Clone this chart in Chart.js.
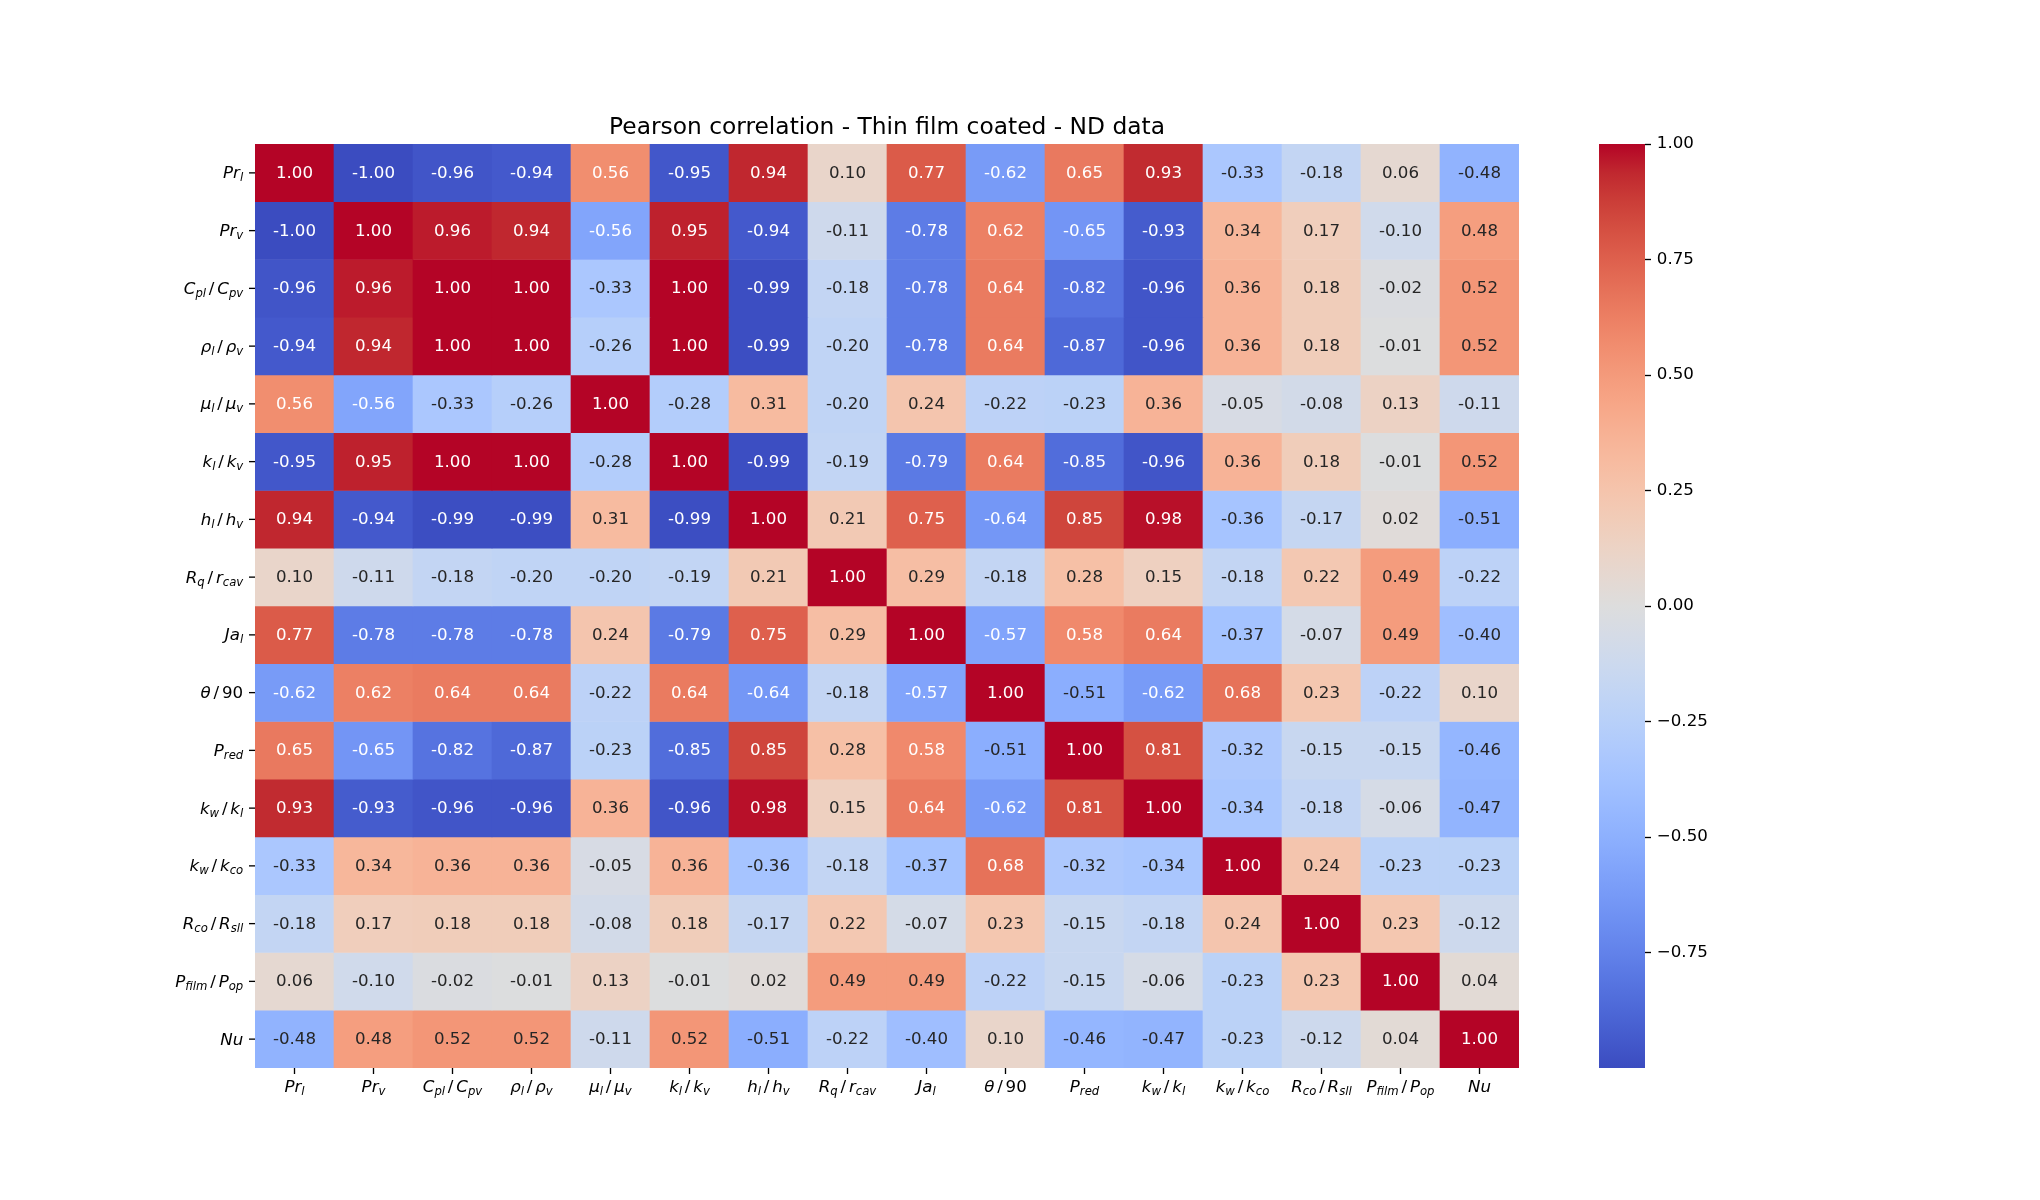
<!DOCTYPE html>
<html>
<head>
<meta charset="utf-8">
<script src="https://cdn.jsdelivr.net/npm/chart.js@4.4.0/dist/chart.umd.min.js"></script>
<style>
  html, body { margin: 0; padding: 0; background: white; }
  #wrap { position: relative; width: 2040px; height: 1200px; background: white; }
  #heat { position: absolute; left: 0; top: 0; width: 2040px; height: 1200px; }
  #cbar { position: absolute; left: 1540px; top: 0; width: 300px; height: 1200px; }
</style>
</head>
<body>
<div id="wrap">
  <canvas id="heat" width="2040" height="1200"></canvas>
  <canvas id="cbar" width="300" height="1200"></canvas>
</div>
<script>
// Pearson correlation heatmap (seaborn-style) with a coolwarm colour bar

const chartTitle = 'Pearson correlation - Thin film coated - ND data';

// mathtext-ish labels: _{..} is a subscript, " / " a spaced slash
const varLabels = [
  'Pr_{l}', 'Pr_{v}', 'C_{pl} / C_{pv}', '\u03c1_{l} / \u03c1_{v}', '\u03bc_{l} / \u03bc_{v}',
  'k_{l} / k_{v}', 'h_{l} / h_{v}', 'R_{q} / r_{cav}', 'Ja_{l}', '\u03b8 / 90',
  'P_{red}', 'k_{w} / k_{l}', 'k_{w} / k_{co}', 'R_{co} / R_{sll}', 'P_{film} / P_{op}', 'Nu'
];

// one row per variable, same order as varLabels
const corr = [
  [ 1.00, -1.00, -0.96, -0.94,  0.56, -0.95,  0.94,  0.10,  0.77, -0.62,  0.65,  0.93, -0.33, -0.18,  0.06, -0.48],
  [-1.00,  1.00,  0.96,  0.94, -0.56,  0.95, -0.94, -0.11, -0.78,  0.62, -0.65, -0.93,  0.34,  0.17, -0.10,  0.48],
  [-0.96,  0.96,  1.00,  1.00, -0.33,  1.00, -0.99, -0.18, -0.78,  0.64, -0.82, -0.96,  0.36,  0.18, -0.02,  0.52],
  [-0.94,  0.94,  1.00,  1.00, -0.26,  1.00, -0.99, -0.20, -0.78,  0.64, -0.87, -0.96,  0.36,  0.18, -0.01,  0.52],
  [ 0.56, -0.56, -0.33, -0.26,  1.00, -0.28,  0.31, -0.20,  0.24, -0.22, -0.23,  0.36, -0.05, -0.08,  0.13, -0.11],
  [-0.95,  0.95,  1.00,  1.00, -0.28,  1.00, -0.99, -0.19, -0.79,  0.64, -0.85, -0.96,  0.36,  0.18, -0.01,  0.52],
  [ 0.94, -0.94, -0.99, -0.99,  0.31, -0.99,  1.00,  0.21,  0.75, -0.64,  0.85,  0.98, -0.36, -0.17,  0.02, -0.51],
  [ 0.10, -0.11, -0.18, -0.20, -0.20, -0.19,  0.21,  1.00,  0.29, -0.18,  0.28,  0.15, -0.18,  0.22,  0.49, -0.22],
  [ 0.77, -0.78, -0.78, -0.78,  0.24, -0.79,  0.75,  0.29,  1.00, -0.57,  0.58,  0.64, -0.37, -0.07,  0.49, -0.40],
  [-0.62,  0.62,  0.64,  0.64, -0.22,  0.64, -0.64, -0.18, -0.57,  1.00, -0.51, -0.62,  0.68,  0.23, -0.22,  0.10],
  [ 0.65, -0.65, -0.82, -0.87, -0.23, -0.85,  0.85,  0.28,  0.58, -0.51,  1.00,  0.81, -0.32, -0.15, -0.15, -0.46],
  [ 0.93, -0.93, -0.96, -0.96,  0.36, -0.96,  0.98,  0.15,  0.64, -0.62,  0.81,  1.00, -0.34, -0.18, -0.06, -0.47],
  [-0.33,  0.34,  0.36,  0.36, -0.05,  0.36, -0.36, -0.18, -0.37,  0.68, -0.32, -0.34,  1.00,  0.24, -0.23, -0.23],
  [-0.18,  0.17,  0.18,  0.18, -0.08,  0.18, -0.17,  0.22, -0.07,  0.23, -0.15, -0.18,  0.24,  1.00,  0.23, -0.12],
  [ 0.06, -0.10, -0.02, -0.01,  0.13, -0.01,  0.02,  0.49,  0.49, -0.22, -0.15, -0.06, -0.23,  0.23,  1.00,  0.04],
  [-0.48,  0.48,  0.52,  0.52, -0.11,  0.52, -0.51, -0.22, -0.40,  0.10, -0.46, -0.47, -0.23, -0.12,  0.04,  1.00]
];

const cbarTicks = [-0.75, -0.5, -0.25, 0, 0.25, 0.5, 0.75, 1.0];
const vMin = -1, vMax = 1;

// coolwarm (Moreland), 33 samples from 0 to 1
const coolwarm = [
  [59,76,192],[68,90,204],[77,104,215],[87,117,225],[98,130,234],[108,142,241],[119,154,247],[130,165,251],
  [141,176,254],[152,185,255],[163,194,255],[174,201,253],[184,208,249],[194,213,244],[204,217,238],[213,219,230],
  [221,221,221],[229,216,209],[236,211,197],[241,204,184],[245,196,172],[247,187,160],[247,177,148],[247,166,135],
  [244,154,123],[241,141,111],[236,127,99],[229,112,88],[222,96,77],[213,80,66],[203,62,56],[192,40,47],[180,4,38]
];

const FONT = '"DejaVu Sans", sans-serif';
const TICK_PX = 16.67, SUB_PX = 11.67, SUB_DROP = 3, THIN = 2.8;
const TICK_LEN = 6, TICK_PAD = 5.8;

Chart.defaults.font.family = FONT;

function cmap(v) {
  let t = (v - vMin) / (vMax - vMin);
  t = Math.max(0, Math.min(1, t)) * (coolwarm.length - 1);
  const i = Math.min(Math.floor(t), coolwarm.length - 2);
  const f = t - i;
  const a = coolwarm[i], b = coolwarm[i + 1];
  return [0, 1, 2].map(k => Math.round(a[k] + (b[k] - a[k]) * f));
}
const rgbStr = c => `rgb(${c[0]},${c[1]},${c[2]})`;

// seaborn picks the annotation colour from the cell luminance
function textColor(v) {
  const lin = cmap(v).map(c => {
    c = c / 255;
    return c <= 0.03928 ? c / 12.92 : Math.pow((c + 0.055) / 1.055, 2.4);
  });
  const lum = 0.2126 * lin[0] + 0.7152 * lin[1] + 0.0722 * lin[2];
  return lum > 0.408 ? '#262626' : '#ffffff';
}

// ---- label rendering with subscripts ----
function labelRuns(label) {
  const runs = [];
  const re = /_\{([^}]*)\}|( \/ )|([0-9]+)|([^_ \/0-9]+)/g;
  let m;
  while ((m = re.exec(label))) {
    if (m[1] !== undefined) runs.push({ text: m[1], sub: true });
    else if (m[2]) runs.push({ text: '/', slash: true });
    else if (m[3]) runs.push({ text: m[3], upright: true });
    else runs.push({ text: m[4] });
  }
  return runs;
}
function runFont(r) {
  const size = r.sub ? SUB_PX : TICK_PX;
  const style = (r.upright || r.slash) ? 'normal' : 'italic';
  return `${style} ${size}px ${FONT}`;
}
function runWidth(ctx, r) {
  ctx.font = runFont(r);
  return ctx.measureText(r.text).width + (r.slash ? 2 * THIN : 0);
}
function drawLabel(ctx, label, x, y, align) {
  const runs = labelRuns(label);
  const total = runs.reduce((s, r) => s + runWidth(ctx, r), 0);
  let cx = align === 'right' ? x - total : (align === 'center' ? x - total / 2 : x);
  ctx.textAlign = 'left';
  ctx.textBaseline = 'alphabetic';
  runs.forEach(r => {
    const w = runWidth(ctx, r);
    ctx.font = runFont(r);
    ctx.fillText(r.text, cx + (r.slash ? THIN : 0), y + (r.sub ? SUB_DROP : 0));
    cx += w;
  });
}

// ---- heatmap: one floating-bar dataset per row ----
const heatDatasets = corr.map((row, r) => ({
  label: varLabels[r],
  data: row.map(() => [r, r + 1]),
  values: row,
  backgroundColor: row.map(v => rgbStr(cmap(v))),
  borderWidth: 0,
  grouped: false,
  barPercentage: 1,
  categoryPercentage: 1
}));

const heatDecor = {
  id: 'heatDecor',
  afterDraw(chart) {
    const { ctx, chartArea } = chart;
    const xs = chart.scales.x, ys = chart.scales.y;
    ctx.save();

    // title
    ctx.fillStyle = '#000';
    ctx.font = `normal 23.33px ${FONT}`;
    ctx.textAlign = 'center';
    ctx.textBaseline = 'alphabetic';
    ctx.fillText(chartTitle, (chartArea.left + chartArea.right) / 2, chartArea.top - 10);

    // annotations
    ctx.font = `normal ${TICK_PX}px ${FONT}`;
    chart.data.datasets.forEach((ds, r) => {
      chart.getDatasetMeta(r).data.forEach((el, c) => {
        const v = ds.values[c];
        ctx.fillStyle = textColor(v);
        ctx.textAlign = 'center';
        ctx.fillText(v.toFixed(2), el.x, (el.y + el.base) / 2 + 5);
      });
    });

    // tick marks and tick labels
    ctx.strokeStyle = '#000';
    ctx.lineWidth = 1.33;
    ctx.fillStyle = '#000';
    varLabels.forEach((lab, i) => {
      const px = xs.getPixelForValue(i);
      ctx.beginPath();
      ctx.moveTo(px, chartArea.bottom);
      ctx.lineTo(px, chartArea.bottom + TICK_LEN);
      ctx.stroke();
      drawLabel(ctx, lab, px, chartArea.bottom + TICK_LEN + TICK_PAD + 12.3, 'center');

      const py = ys.getPixelForValue(i + 0.5);
      ctx.beginPath();
      ctx.moveTo(chartArea.left, py);
      ctx.lineTo(chartArea.left - TICK_LEN, py);
      ctx.stroke();
      drawLabel(ctx, lab, chartArea.left - TICK_LEN - TICK_PAD, py + 5.5, 'right');
    });
    ctx.restore();
  }
};

new Chart(document.getElementById('heat'), {
  type: 'bar',
  data: { labels: varLabels, datasets: heatDatasets },
  options: {
    responsive: false,
    animation: false,
    devicePixelRatio: 1,
    events: [],
    layout: { padding: { left: 255, top: 144, right: 521, bottom: 132 } },
    plugins: { legend: { display: false }, tooltip: { enabled: false } },
    scales: {
      x: { type: 'category', display: false },
      y: { type: 'linear', min: 0, max: varLabels.length, reverse: true, display: false }
    }
  },
  plugins: [heatDecor]
});

// ---- colour bar ----
function cbarGradient(context) {
  const chart = context.chart;
  const y = chart.scales.y;
  if (!chart.chartArea || !y) return rgbStr(cmap(0));
  const g = chart.ctx.createLinearGradient(0, y.getPixelForValue(vMin), 0, y.getPixelForValue(vMax));
  coolwarm.forEach((c, i) => g.addColorStop(i / (coolwarm.length - 1), rgbStr(c)));
  return g;
}
const fmtTick = v => (v < 0 ? '\u2212' : '') + Math.abs(v).toFixed(2);

new Chart(document.getElementById('cbar'), {
  type: 'bar',
  data: {
    labels: [''],
    datasets: [{
      data: [[vMin, vMax]],
      backgroundColor: cbarGradient,
      borderWidth: 0,
      barPercentage: 1,
      categoryPercentage: 1
    }]
  },
  options: {
    responsive: false,
    animation: false,
    devicePixelRatio: 1,
    events: [],
    layout: { padding: { left: 59, right: 95, top: 144, bottom: 132 } },
    plugins: { legend: { display: false }, tooltip: { enabled: false } },
    scales: {
      x: { display: false },
      y: {
        position: 'right',
        min: vMin,
        max: vMax,
        afterFit: a => { a.width = 100; },
        afterBuildTicks: a => { a.ticks = cbarTicks.map(v => ({ value: v })); },
        grid: { drawOnChartArea: false, tickLength: TICK_LEN, tickColor: '#000', tickWidth: 1.33 },
        border: { display: false },
        ticks: {
          padding: TICK_PAD,
          color: '#000',
          font: { family: FONT, size: TICK_PX },
          callback: v => fmtTick(v)
        }
      }
    }
  }
});
</script>
</body>
</html>
